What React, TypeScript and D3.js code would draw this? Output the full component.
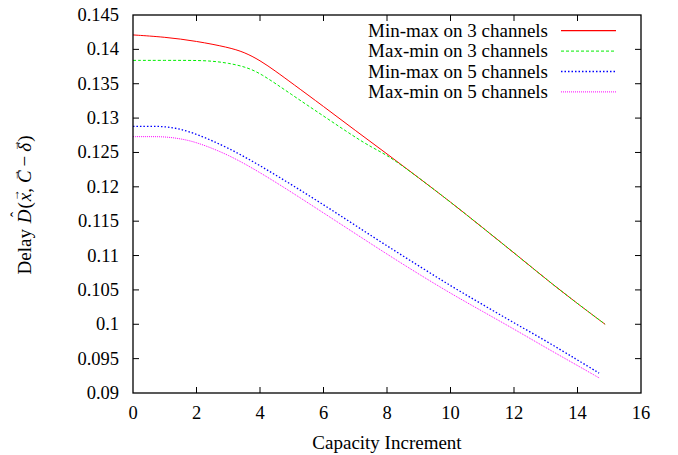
import * as d3 from 'd3'
import { useRef, useEffect } from 'react'

// capacity increment samples
const xRed = [0, 1, 2, 3, 3.5, 4, 4.5, 5, 6, 7, 8, 9, 10, 11, 12, 13, 14, 14.87]
const minMax3 = [0.1421, 0.1418, 0.1412, 0.1403, 0.1396, 0.1384, 0.1368, 0.1351, 0.1317, 0.1282, 0.1248, 0.1213, 0.1178, 0.1141, 0.1104, 0.1066, 0.1030, 0.1000]

const xGreen = [0, 1, 2, 2.5, 3, 3.5, 4, 5, 6, 7, 7.5, 8, 8.5, 9, 10, 11, 12, 13, 14, 14.87]
const maxMin3 = [0.1384, 0.1384, 0.1384, 0.1383, 0.1380, 0.1375, 0.1366, 0.1334, 0.1303, 0.1272, 0.1258, 0.1246, 0.1230, 0.1213, 0.1178, 0.1141, 0.1104, 0.1066, 0.1030, 0.1000]

const x5 = [0, 0.5, 1, 1.5, 2, 3, 4, 5, 6, 7, 8, 9, 10, 11, 12, 13, 14, 14.68]
const minMax5 = [0.1288, 0.1288, 0.1288, 0.1284, 0.1277, 0.1257, 0.1231, 0.1203, 0.1174, 0.1144, 0.1114, 0.1085, 0.1056, 0.1029, 0.1002, 0.0976, 0.0948, 0.0929]
const maxMin5 = [0.1273, 0.1273, 0.1273, 0.1270, 0.1265, 0.1247, 0.1221, 0.1192, 0.1162, 0.1132, 0.1102, 0.1073, 0.1045, 0.1019, 0.0993, 0.0966, 0.0940, 0.0922]

const seriesNames = ['Min-max on 3 channels', 'Max-min on 3 channels', 'Min-max on 5 channels', 'Max-min on 5 channels']
const seriesColors = ['#ff0000', '#00ee00', '#0000ff', '#ff00ff']
const seriesDash = ['none', '3,2', '1.5,2', '1,1']
const seriesWidth = [1, 1, 1.3, 1]

const xTicks = [0, 2, 4, 6, 8, 10, 12, 14, 16]
const yTicks = [0.09, 0.095, 0.1, 0.105, 0.11, 0.115, 0.12, 0.125, 0.13, 0.135, 0.14, 0.145]

// y label pieces: text, italic, accent, extra gap after
const yLabel: [string, boolean, string, number][] = [
  ['Delay ', false, '', 1], ['D', true, '\u02C6', 1], ['(', false, '', 1], ['x', true, '\u2192', 0], [',', false, '', 5],
  ['C', true, '\u2192', 4], ['\u2212', false, '', 4], ['\u03B4', true, '\u2192', 1], [')', false, '', 0]
]

const W = 678
const H = 455
const margin = { left: 133, right: 37, top: 15, bottom: 62 }
const FONT = 'Times New Roman, Liberation Serif, serif'

export default function App() {
  const svgRef = useRef(null)

  useEffect((): void => {
    const SVG = d3.select(svgRef.current)
    SVG.selectAll('*').remove()

    const xScale = d3.scaleLinear().domain([0, 16]).range([margin.left, W - margin.right])
    const yScale = d3.scaleLinear().domain([0.09, 0.145]).range([H - margin.bottom, margin.top])
    const x0 = xScale(0), x1 = xScale(16), y0 = yScale(0.09), y1 = yScale(0.145)

    // ticks on all four sides, pointing inward
    const tl = 6
    const g = SVG.append('g')
    xTicks.forEach(t => {
      if (t === 0 || t === 16) return
      g.append('line').attr('x1', xScale(t)).attr('x2', xScale(t)).attr('y1', y0).attr('y2', y0 - tl).attr('stroke', '#000')
      g.append('line').attr('x1', xScale(t)).attr('x2', xScale(t)).attr('y1', y1).attr('y2', y1 + tl).attr('stroke', '#000')
    })
    yTicks.forEach(t => {
      if (t === 0.09 || t === 0.145) return
      g.append('line').attr('x1', x0).attr('x2', x0 + tl).attr('y1', yScale(t)).attr('y2', yScale(t)).attr('stroke', '#000')
      g.append('line').attr('x1', x1).attr('x2', x1 - tl).attr('y1', yScale(t)).attr('y2', yScale(t)).attr('stroke', '#000')
    })

    xTicks.forEach(t => {
      SVG.append('text').attr('x', xScale(t)).attr('y', y0 + 26)
        .attr('text-anchor', 'middle').style('font-family', FONT).attr('font-size', 18.5).text(t)
    })
    yTicks.forEach(t => {
      SVG.append('text').attr('x', x0 - 14).attr('y', yScale(t) + 6)
        .attr('text-anchor', 'end').style('font-family', FONT).attr('font-size', 18.5).text(String(+t.toFixed(3)))
    })

    const xs = [xRed, xGreen, x5, x5]
    const ys = [minMax3, maxMin3, minMax5, maxMin5]
    const line = d3.line<[number, number]>()
      .x(d => xScale(d[0]))
      .y(d => yScale(d[1]))
      .curve(d3.curveBasis)

    // plotted in legend order, so the green dashes lie over the red where they meet
    ys.forEach((vals, i) => {
      const pts = xs[i].map((x, j) => [x, vals[j]] as [number, number])
      SVG.append('path').attr('d', line(pts)).attr('fill', 'none')
        .attr('stroke', seriesColors[i]).attr('stroke-width', seriesWidth[i])
        .attr('stroke-dasharray', seriesDash[i])
    })

    // legend
    seriesNames.forEach((name, i) => {
      const ly = 30.7 + i * 20.4
      SVG.append('text').attr('x', 548).attr('y', ly + 6).attr('text-anchor', 'end')
        .style('font-family', FONT).attr('font-size', 19).text(name)
      SVG.append('line').attr('x1', 561).attr('x2', 616).attr('y1', ly).attr('y2', ly)
        .attr('stroke', seriesColors[i]).attr('stroke-width', i === 0 ? 1.3 : seriesWidth[i])
        .attr('stroke-dasharray', seriesDash[i])
    })

    // frame
    SVG.append('rect').attr('x', x0).attr('y', y1).attr('width', x1 - x0).attr('height', y0 - y1)
      .attr('fill', 'none').attr('stroke', '#000').attr('stroke-width', 1.3)

    SVG.append('text').attr('x', (x0 + x1) / 2).attr('y', 449).attr('text-anchor', 'middle')
      .style('font-family', FONT).attr('font-size', 19).text('Capacity Increment')

    // y label built piece by piece so the accents sit above their letters
    const outer = SVG.append('g').attr('transform', 'translate(31,205) rotate(-90)')
    const inner = outer.append('g')
    let cursor = 0
    yLabel.forEach(([txt, it, acc, gap]) => {
      const t = inner.append('text').attr('x', cursor).attr('y', 0)
        .style('font-family', FONT).attr('font-size', 19)
        .attr('font-style', it ? 'italic' : 'normal')
        .style('white-space', 'pre').text(txt)
      const node = t.node() as SVGTextElement
      const w = node.getComputedTextLength()
      if (acc) {
        inner.append('text').attr('x', cursor + w / 2 + 2).attr('y', acc === '\u02C6' ? -9 : -12)
          .attr('text-anchor', 'middle').style('font-family', FONT)
          .attr('font-size', acc === '\u02C6' ? 16 : 12).text(acc)
      }
      cursor += w + gap
    })
    inner.attr('transform', `translate(${-cursor / 2},0)`)
  }, [])

  return <svg ref={svgRef} width={W} height={H} style={{ position: 'absolute', left: 0, top: 0, background: '#fff' }}></svg>
}
